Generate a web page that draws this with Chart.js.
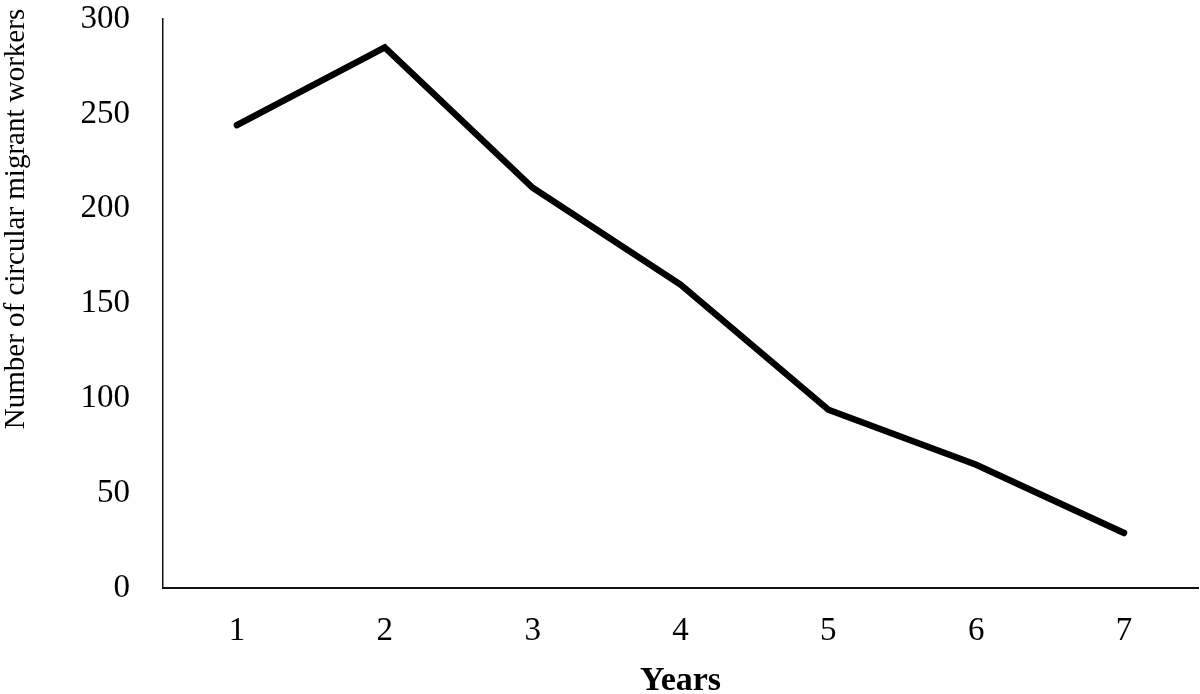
<!DOCTYPE html>
<html>
<head>
<meta charset="utf-8">
<script src="https://cdn.jsdelivr.net/npm/chart.js@4.4.0/dist/chart.umd.min.js"></script>
<style>
    html, body { margin: 0; padding: 0; background: #fff; }
    #wrap { width: 1200px; height: 694px; }
</style>
</head>
<body>
<div id="wrap"><canvas id="chart" width="1200" height="694"></canvas></div>
<script>
// Chart data
const years = ['1', '2', '3', '4', '5', '6', '7'];
const workers = [244, 285, 211, 160, 94, 65, 29];
const yTicks = [0, 50, 100, 150, 200, 250, 300];

const serif = "'Liberation Serif', 'Times New Roman', serif";

// y axis title sits a bit above the axis middle, so draw it by hand
const yTitlePlugin = {
    id: 'yTitle',
    afterDraw: function(chart) {
        const ctx = chart.ctx;
        ctx.save();
        ctx.translate(16, 219);
        ctx.rotate(-Math.PI / 2);
        ctx.font = "29px " + serif;
        ctx.fillStyle = '#000';
        ctx.textAlign = 'center';
        ctx.textBaseline = 'middle';
        ctx.fillText('Number of circular migrant workers', 0, 0);
        ctx.restore();
    }
};

const ctx = document.getElementById('chart').getContext('2d');
new Chart(ctx, {
    type: 'line',
    data: {
        labels: years,
        datasets: [{
            data: workers,
            borderColor: '#000',
            borderWidth: 6.5,
            borderCapStyle: 'round',
            borderJoinStyle: 'miter',
            pointRadius: 0,
            tension: 0,
            fill: false
        }]
    },
    options: {
        responsive: false,
        animation: false,
        layout: { padding: { top: 19, right: 2, left: 0, bottom: 0 } },
        plugins: {
            legend: { display: false },
            tooltip: { enabled: false }
        },
        scales: {
            x: {
                offset: true,
                grid: { display: false, drawTicks: false },
                border: { display: true, color: '#111', width: 2 },
                ticks: {
                    color: '#000',
                    padding: 24,
                    font: { family: serif, size: 33 }
                },
                title: {
                    display: true,
                    text: 'Years',
                    color: '#000',
                    padding: { top: 0, bottom: -8 },
                    font: { family: serif, size: 34, weight: 'bold' }
                },
                afterFit: function(scale) { scale.height = 106; }
            },
            y: {
                min: 0,
                max: 300,
                grid: { display: false, drawTicks: false },
                border: { display: true, color: '#111', width: 1.5 },
                ticks: {
                    color: '#000',
                    padding: 33,
                    font: { family: serif, size: 33 },
                    callback: function(v) { return yTicks.includes(v) ? v : ''; },
                    stepSize: 50
                },
                afterFit: function(scale) {
                    scale.width = 163;
                    scale.paddingTop = 0;
                    scale.paddingBottom = 0;
                }
            }
        }
    },
    plugins: [yTitlePlugin]
});
</script>
</body>
</html>
